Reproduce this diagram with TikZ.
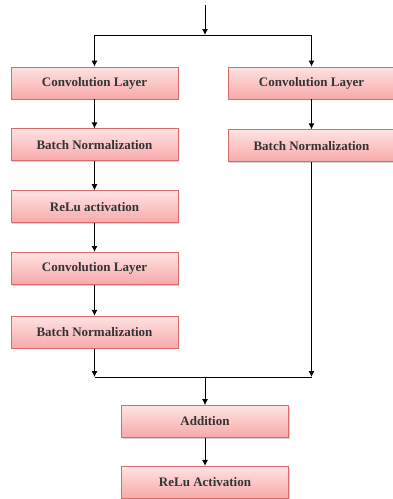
\documentclass[tikz,border=0pt]{standalone}
\usepackage{fontspec}
\setmainfont{Liberation Serif}
\usetikzlibrary{positioning,arrows.meta,shadows}

\definecolor{boxtop}{HTML}{FFE2E2}
\definecolor{boxbot}{HTML}{F7A9A9}
\definecolor{boxline}{HTML}{D86B6B}

\begin{document}
\begin{tikzpicture}[x=1pt, y=1pt, node distance=29pt, >={Latex[length=6pt,width=6pt]},
  layer/.style={draw=boxline, line width=0.8pt, rectangle, top color=boxtop, bottom color=boxbot,
    minimum width=167pt, minimum height=32pt, inner sep=0pt,
    font=\bfseries\fontsize{13}{15}\selectfont, text=black!80,
    drop shadow={opacity=0.35, shadow xshift=1.2pt, shadow yshift=-1.2pt}},
  link/.style={line width=0.9pt}]
  \useasboundingbox (0,0) rectangle (392,-499);

  % left branch
  \node[layer] (convA) at (94.5,-83) {Convolution Layer};
  \node[layer, below=of convA] (bnA) {Batch Normalization};
  \node[layer, below=of bnA] (relu) {ReLu activation};
  \node[layer, below=of relu] (convB) {Convolution Layer};
  \node[layer, below=31pt of convB] (bnB) {Batch Normalization};

  % shortcut branch
  \node[layer] (convS) at (311.5,-83) {Convolution Layer};
  \node[layer, below=30pt of convS] (bnS) {Batch Normalization};

  % merge
  \node[layer] (add) at (205,-421.5) {Addition};
  \node[layer, below=28pt of add] (out) {ReLu Activation};

  \coordinate (input) at (205,-5);
  \coordinate (split) at (205,-35);
  \coordinate (merge) at (205,-377);
  \coordinate (joinA) at (bnB |- merge);
  \coordinate (joinS) at (bnS |- merge);

  \draw[link,->] (input) -- (split);
  \draw[link] (convA |- split) -- (convS |- split);
  \draw[link,->] (split) -| (convA);
  \draw[link,->] (split) -| (convS);
  \draw[link,->] (convA) -- (bnA);
  \draw[link,->] (bnA) -- (relu);
  \draw[link,->] (relu) -- (convB);
  \draw[link,->] (convB) -- (bnB);
  \draw[link,->] (convS) -- (bnS);
  \draw[link,->] (bnB) -- (joinA);
  \draw[link,->] (bnS) -- (joinS);
  \draw[link] (joinA) -- (joinS);
  \draw[link,->] (merge) -- (add);
  \draw[link,->] (add) -- (out);
\end{tikzpicture}
\end{document}
